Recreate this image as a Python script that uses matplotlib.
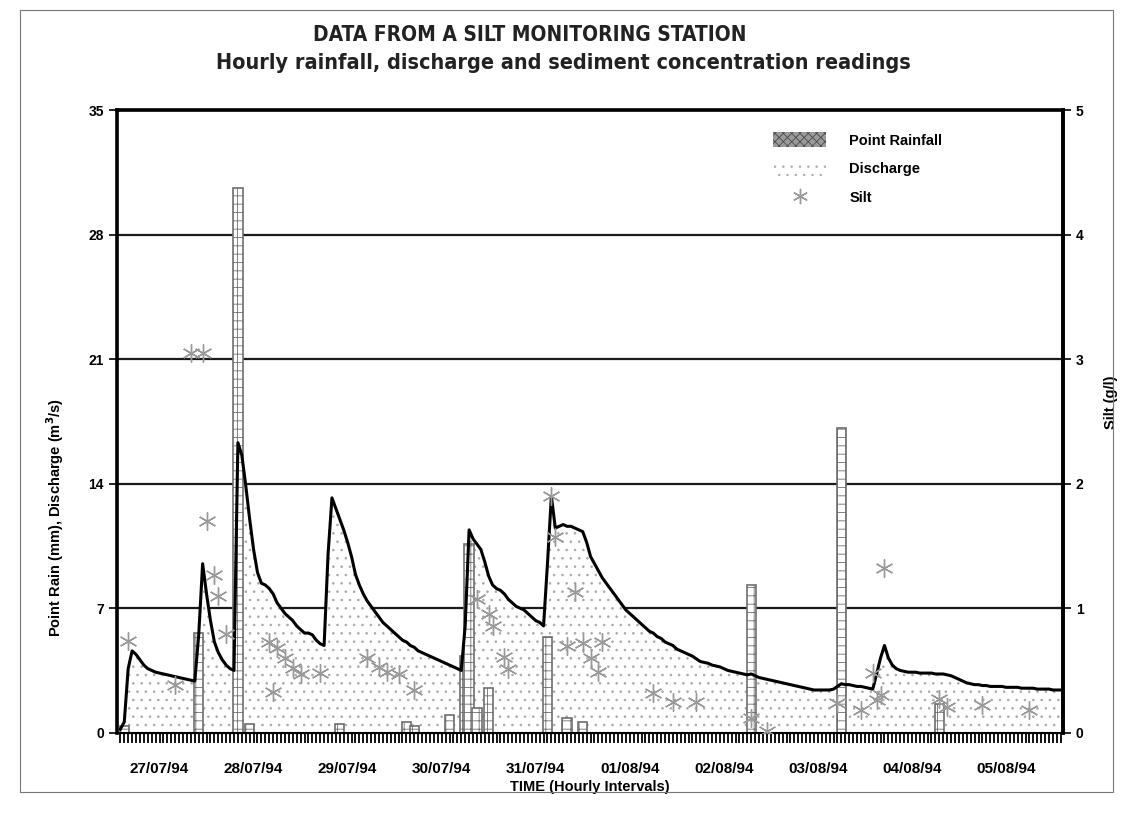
import numpy as np
import matplotlib
matplotlib.use("Agg")
import matplotlib.pyplot as plt
from matplotlib import font_manager
from matplotlib.patches import Patch, Rectangle
from matplotlib.lines import Line2D

# hourly discharge (m3/s), starting 26/07/94 14:00
discharge = [
    0.2, 0.6, 3.6, 4.6, 4.4, 4.1, 3.8, 3.6, 3.5, 3.4,
    3.35, 3.3, 3.25, 3.2, 3.15, 3.1, 3.05, 3.0, 2.95, 2.9,
    5.5, 9.5, 7.8, 6.3, 5.1, 4.5, 4.1, 3.8, 3.6, 3.5,
    16.3, 15.6, 13.9, 12.0, 10.3, 9.0, 8.4, 8.3, 8.1, 7.8,
    7.3, 7.0, 6.7, 6.5, 6.3, 6.0, 5.8, 5.6, 5.6, 5.5,
    5.2, 5.0, 4.9, 10.0, 13.2, 12.6, 12.0, 11.4, 10.7, 9.9,
    8.9, 8.3, 7.8, 7.4, 7.1, 6.8, 6.5, 6.2, 6.0, 5.8,
    5.6, 5.4, 5.2, 5.1, 4.9, 4.8, 4.6, 4.5, 4.4, 4.3,
    4.2, 4.1, 4.0, 3.9, 3.8, 3.7, 3.6, 3.5, 6.0, 11.4,
    10.9, 10.6, 10.3, 9.6, 8.8, 8.3, 8.1, 8.0, 7.8, 7.5,
    7.3, 7.1, 7.0, 6.9, 6.7, 6.5, 6.3, 6.2, 6.0, 9.5,
    13.3, 11.5, 11.6, 11.7, 11.6, 11.6, 11.5, 11.4, 11.3, 10.7,
    9.9, 9.5, 9.1, 8.7, 8.4, 8.1, 7.8, 7.5, 7.2, 6.9,
    6.7, 6.5, 6.3, 6.1, 5.9, 5.7, 5.6, 5.4, 5.3, 5.1,
    5.0, 4.9, 4.7, 4.6, 4.5, 4.4, 4.3, 4.15, 4.0, 3.95,
    3.9, 3.8, 3.75, 3.7, 3.6, 3.5, 3.45, 3.4, 3.35, 3.3,
    3.25, 3.3, 3.2, 3.1, 3.05, 3.0, 2.95, 2.9, 2.85, 2.8,
    2.75, 2.7, 2.65, 2.6, 2.55, 2.5, 2.45, 2.4, 2.4, 2.4,
    2.4, 2.4, 2.45, 2.6, 2.75, 2.7, 2.7, 2.65, 2.6, 2.6,
    2.55, 2.5, 2.45, 3.3, 4.2, 4.9, 4.2, 3.8, 3.6, 3.5,
    3.45, 3.4, 3.4, 3.4, 3.35, 3.35, 3.35, 3.35, 3.3, 3.3,
    3.3, 3.25, 3.2, 3.1, 3.0, 2.9, 2.8, 2.75, 2.7, 2.7,
    2.65, 2.65, 2.6, 2.6, 2.6, 2.6, 2.55, 2.55, 2.55, 2.55,
    2.5, 2.5, 2.5, 2.5, 2.45, 2.45, 2.45, 2.45, 2.4, 2.4,
    2.4,
]

# rain gauge totals (mm) for the hours with rain
rain_hour = [1, 20, 30, 33, 56, 73, 75, 84, 88, 89, 91, 94, 109, 114, 118, 161, 184, 209]
rain_mm = [0.4, 5.6, 30.6, 0.5, 0.5, 0.6, 0.4, 1.0, 4.3, 10.6, 1.4, 2.5, 5.4, 0.85, 0.6, 8.3, 17.1, 1.6]

# silt samples (g/l)
silt_hour = [2, 14, 18, 21, 22, 24, 25, 27, 38, 39, 40, 42, 44, 46, 51,
             63, 66, 68, 71, 75, 91, 94, 95, 98, 99, 110, 111, 114, 116,
             118, 120, 122, 123, 136, 141, 147, 161, 165, 183, 189, 192,
             193, 194, 195, 209, 211, 220, 232]
silt_gl = [0.74, 0.38, 3.05, 3.05, 1.70, 1.27, 1.10, 0.79, 0.73, 0.33, 0.68, 0.60, 0.52, 0.47, 0.48,
           0.60, 0.53, 0.49, 0.47, 0.34, 1.07, 0.95, 0.86, 0.61, 0.51, 1.90, 1.57, 0.70, 1.13,
           0.72, 0.60, 0.49, 0.73, 0.32, 0.25, 0.25, 0.12, 0.01, 0.24, 0.18, 0.48,
           0.26, 0.30, 1.32, 0.27, 0.21, 0.22, 0.18]

day_labels = ["27/07/94", "28/07/94", "29/07/94", "30/07/94", "31/07/94",
              "01/08/94", "02/08/94", "03/08/94", "04/08/94", "05/08/94"]
first_midnight = 10

installed = {f.name for f in font_manager.fontManager.ttflist}
narrow = "Liberation Sans Narrow" if "Liberation Sans Narrow" in installed else "DejaVu Sans"
plt.rcParams["font.family"] = ["Liberation Sans", "DejaVu Sans"]
plt.rcParams["font.weight"] = "bold"
plt.rcParams["hatch.linewidth"] = 0.6

hours = np.arange(len(discharge))

fig = plt.figure(figsize=(11.27, 8.15), dpi=100)
ax = fig.add_axes([0.104, 0.101, 0.839, 0.764])

ax.fill_between(hours, 0, discharge, facecolor="white", edgecolor="#a8a8a8",
                hatch="..", linewidth=0, zorder=1)
ax.bar(rain_hour, rain_mm, width=2.4, facecolor="white", edgecolor="#6e6e6e",
       hatch="++", linewidth=1.2, zorder=2)
ax.plot(hours, discharge, color="black", linewidth=2.2, zorder=3)

ax.set_xlim(-0.8, 240.5)
ax.set_ylim(0, 35)
ax.set_yticks(np.arange(0, 36, 7))
ax.grid(axis="y", color="#1a1a1a", linewidth=1.6, zorder=0)
ax.set_axisbelow(True)

ax.set_xticks([first_midnight + 24 * k for k in range(len(day_labels))])
ax.set_xticklabels(day_labels)
ax.set_xticks(hours, minor=True)
ax.tick_params(axis="x", which="both", direction="out", length=7, width=1.3,
               pad=14, labelsize=11)
ax.tick_params(axis="y", direction="out", length=6, width=1.2, labelsize=10)

for side in ("left", "right", "top"):
    ax.spines[side].set_linewidth(2.6)
ax.spines["bottom"].set_linewidth(1.5)

ax.set_xlabel("TIME (Hourly Intervals)", fontsize=10.5, fontweight="bold", labelpad=3)
ax.set_ylabel("Point Rain (mm), Discharge (m$^3$/s)", fontsize=10.5, fontweight="bold")
ax.yaxis.set_label_coords(-0.054, 0.345)

ax2 = ax.twinx()
ax2.plot(silt_hour, silt_gl, linestyle="none", marker=(6, 2, 0), markersize=13,
         markeredgewidth=1.0, color="#999999", zorder=4)
ax2.set_ylim(0, 5)
ax2.set_yticks(range(6))
ax2.tick_params(axis="y", direction="out", length=6, width=1.2, labelsize=10)
ax2.spines["right"].set_linewidth(2.6)
ax2.set_ylabel("Silt (g/l)", fontsize=10.5, fontweight="bold", rotation=90)
ax2.yaxis.set_label_coords(1.044, 0.53)

handles = [
    Patch(facecolor="#9a9a9a", edgecolor="#4a4a4a", hatch="xxxx", linewidth=0),
    Patch(facecolor="white", edgecolor="#b0b0b0", hatch="..", linewidth=0),
    Line2D([], [], linestyle="none", marker=(6, 2, 0), markersize=11,
           markeredgewidth=1.0, color="#999999"),
]
ax2.legend(handles, ["Point Rainfall", "Discharge", "Silt"], loc="upper left",
           bbox_to_anchor=(0.68, 0.985), frameon=False, handlelength=3.6,
           handleheight=1.2, labelspacing=0.9, handletextpad=1.6, fontsize=10.5)

fig.text(0.47, 0.957, "DATA FROM A SILT MONITORING STATION", ha="center", va="center",
         family=[narrow, "DejaVu Sans"], fontstretch="condensed", fontsize=15,
         fontweight="bold", color="#222222")
fig.text(0.5, 0.923, "Hourly rainfall, discharge and sediment concentration readings",
         ha="center", va="center", family=[narrow, "DejaVu Sans"], fontstretch="condensed",
         fontsize=15.5, fontweight="bold", color="#222222")

# page frame
fig.patches.append(Rectangle((0.018, 0.028), 0.97, 0.96, transform=fig.transFigure,
                             fill=False, edgecolor="#777777", linewidth=0.8))

fig.savefig("out.png", dpi=100)
